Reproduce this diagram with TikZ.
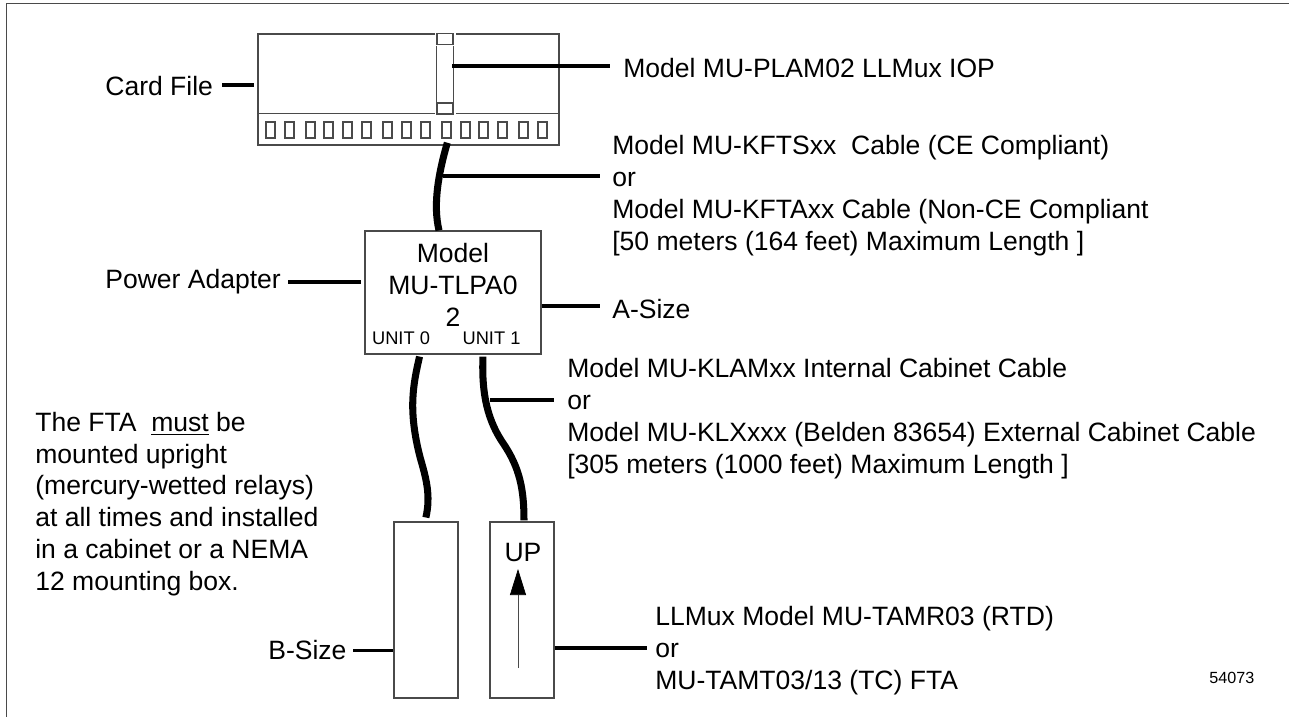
\documentclass[tikz,border=0pt]{standalone}
\usepackage{fontspec}
\setmainfont{Liberation Sans}
\usepackage{xcolor}
\definecolor{outline}{HTML}{4A4A4A}
\usetikzlibrary{positioning,arrows.meta,calc}

\begin{document}
\begin{tikzpicture}[x=0.02cm, y=-0.02cm,
    thinbox/.style={draw=outline, line width=0.7pt, fill=white, inner sep=0pt},
    slotbox/.style={thinbox, minimum width=0.18cm, minimum height=0.32cm},
    ftabox/.style={thinbox, minimum width=1.28cm, minimum height=3.52cm},
    leader/.style={draw=black, line width=2.2pt},
    cable/.style={draw=black, line width=4pt},
    lbl/.style={font=\fontsize{15.1}{18.1}\selectfont, align=left, inner sep=0pt, anchor=west},
    unitlbl/.style={font=\fontsize{10.4}{11}\selectfont, inner sep=0pt}]
  \useasboundingbox (0,0) rectangle (1289,717);

  % page edge
  \coordinate (pagetl) at (6.5,3.5);
  \coordinate (pagetr) at (1289,3.5);
  \coordinate (pagebl) at (6.5,717);
  \draw[outline, line width=0.7pt] (pagetr) -- (pagetl) -- (pagebl);

  % card file with its slots
  \node[thinbox, minimum width=6.02cm, minimum height=2.22cm] (filebox) at (408.5,89.5) {};
  \coordinate (divl) at (258,113.5);
  \coordinate (divr) at (559,113.5);
  \draw[outline, line width=0.7pt] (divl) -- (divr);
  \foreach \i/\x in {1/270.5, 2/289.5, 3/310.5, 4/328.5, 5/347.5, 6/366.5, 7/387.5, 8/406.5,
                     9/425.5, 10/446.5, 11/465.5, 12/483.5, 13/502.5, 14/523.5, 15/542.5}
    \node[slotbox] (sq\i) at (\x,130) {};

  % IOP card
  \fill[white] (434.5,32) rectangle (455.5,115);
  \node[thinbox, minimum width=0.32cm, minimum height=0.22cm] (ioptop) at (445,39) {};
  \node[inner sep=0pt, minimum width=0.32cm, minimum height=1.12cm] (iopmid) at (445,74) {};
  \node[thinbox, minimum width=0.32cm, minimum height=0.22cm] (iopbot) at (445,108.5) {};
  \draw[outline, line width=0.7pt] (iopmid.north west) -- (iopmid.south west);
  \draw[outline, line width=0.7pt] (iopmid.north east) -- (iopmid.south east);

  % adapter and FTAs
  \node[thinbox, minimum width=3.52cm, minimum height=2.46cm] (powerbox) at (453,292.5) {};
  \node[lbl, anchor=center, align=center] (powertxt) at (453,285) {Model\\MU-TLPA0\\2};
  \node[unitlbl] (unitzero) at (401,338) {UNIT 0};
  \node[unitlbl] (unitone) at (491.5,338) {UNIT 1};
  \node[ftabox] (ftazero) at (426,610) {};
  \node[ftabox] (ftaone) at (522,610) {};
  \node[lbl, anchor=center] (uplbl) at (523,552) {UP};
  \coordinate (uptail) at (518,668);
  \coordinate (uptip) at (518,569);
  \draw[outline, line width=0.4pt, -{Triangle[length=0.52cm,width=0.32cm,black]}] (uptail) -- (uptip);

  % cables
  \draw[cable, shorten <=-0.06cm] (sq10 |- filebox.south) .. controls (438,175) and (433,205) .. ([xshift=-0.28cm]powerbox.north);
  \draw[cable, shorten <=0.04cm, shorten >=0.08cm] ([xshift=-0.66cm]powerbox.south) .. controls (413,385) and (408,410) .. (420,457) .. controls (426,478) and (431,495) .. ([xshift=-0.02cm]ftazero.north);
  \draw[cable, shorten <=0.04cm, shorten >=0.02cm] ([xshift=0.6cm]powerbox.south) .. controls (482,385) and (484,415) .. (503,443) .. controls (520,468) and (524,490) .. ([xshift=0.04cm]ftaone.north);

  % labels
  \node[lbl] (filelbl) at (105,86) {Card File};
  \node[lbl] (ioplbl) at (623,68) {Model MU-PLAM02 LLMux IOP};
  \node[lbl] (kftlbl) at (612,195.7) {Model MU-KFTSxx~ Cable (CE Compliant)\\or\\Model MU-KFTAxx Cable (Non-CE Compliant\\{}[50 meters (164 feet) Maximum Length ]};
  \node[lbl] (adapterlbl) at (105,282) {Power Adapter};
  \node[lbl] (asizelbl) at (612,309) {A-Size};
  \node[lbl] (klamlbl) at (567,418.5) {Model MU-KLAMxx Internal Cabinet Cable\\or\\Model MU-KLXxxx (Belden 83654) External Cabinet Cable\\{}[305 meters (1000 feet) Maximum Length ]};
  \node[lbl] (notelbl) at (35,504) {The FTA~ \underline{must} be\\mounted upright\\(mercury-wetted relays)\\at all times and installed\\in a cabinet or a NEMA\\12 mounting box.};
  \node[lbl] (bsizelbl) at (268,650) {B-Size};
  \node[lbl] (tamlbl) at (655,650.7) {LLMux Model MU-TAMR03 (RTD)\\or\\MU-TAMT03/13 (TC) FTA};
  \node[unitlbl, anchor=west, font=\fontsize{9.2}{11}\selectfont] (dwglbl) at (1209,678) {54073};

  % leaders
  \coordinate (fileend) at (222,85);
  \coordinate (iopstart) at (452,66);
  \coordinate (iopend) at (610,66);
  \coordinate (kftstart) at (443,176);
  \coordinate (kftend) at (600,176);
  \coordinate (adapterend) at (288,282);
  \coordinate (asizeend) at (600,306);
  \coordinate (klamstart) at (490,400);
  \coordinate (klamend) at (554,400);
  \coordinate (bsizeend) at (353,650.5);
  \coordinate (tamend) at (647,648);
  \draw[leader, shorten >=0.06cm] (fileend) -- (fileend -| filebox.west);
  \draw[leader] (iopstart) -- (iopend);
  \draw[leader] (kftstart) -- (kftend);
  \draw[leader, shorten >=0.06cm] (adapterend) -- (adapterend -| powerbox.west);
  \draw[leader] (asizeend -| powerbox.east) -- (asizeend);
  \draw[leader] (klamstart) -- (klamend);
  \draw[leader] (bsizeend) -- (bsizeend -| ftazero.west);
  \draw[leader] (tamend -| ftaone.east) -- (tamend);
\end{tikzpicture}
\end{document}
